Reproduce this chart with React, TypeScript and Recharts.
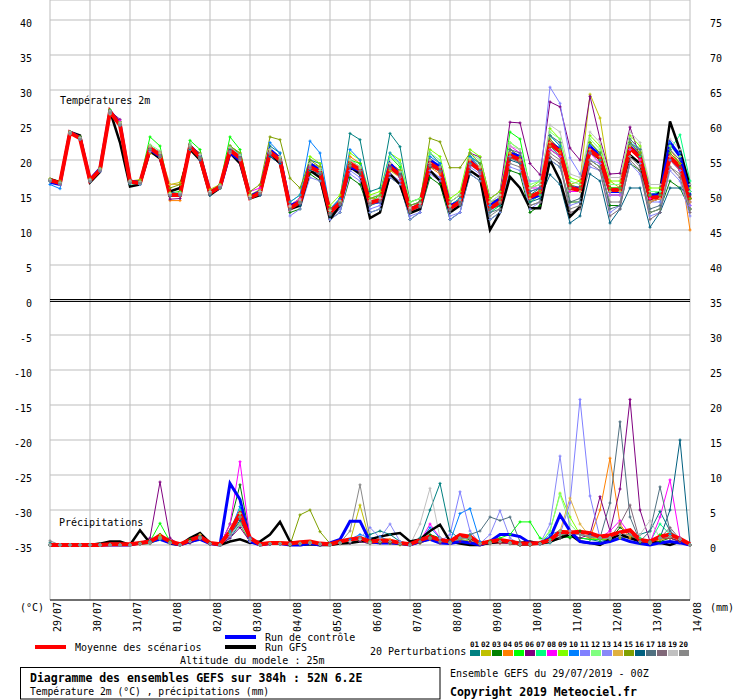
import { CartesianGrid, Line, LineChart, ReferenceLine, XAxis, YAxis } from "recharts";

const MONO = '"DejaVu Sans Mono", monospace';

// x axis: one point every 6h over 384h
const HOURS = Array.from({ length: 65 }, (_, i) => i * 6);
const DAY_TICKS = Array.from({ length: 17 }, (_, i) => i * 24);
const DAYS = [
  "29/07", "30/07", "31/07", "01/08", "02/08", "03/08", "04/08", "05/08", "06/08",
  "07/08", "08/08", "09/08", "10/08", "11/08", "12/08", "13/08", "14/08",
];
const TEMP_TICKS = [-35, -30, -25, -20, -15, -10, -5, 0, 5, 10, 15, 20, 25, 30, 35, 40];
const PREC_TICKS = [0, 5, 10, 15, 20, 25, 30, 35, 40, 45, 50, 55, 60, 65, 70, 75];

const PERT_COLORS = [
  "#008080", "#c0c000", "#008000", "#ff8000", "#00ff00", "#800080", "#00ff80",
  "#ff00ff", "#80ff00", "#0080ff", "#8080ff", "#80ff80", "#8888f8", "#e0b040",
  "#80a000", "#006080", "#507080", "#806878", "#c0c0c0", "#888888",
];

// temperature 2m (°C)
const T_MEAN = [17.1,16.7,23.9,23.1, 17.1,18.6,26.9,25, 16.9,16.7,21.7,20.7, 15,15,21.9,20.4, 15.3,16.2,21.4,20.3, 14.6,15.3,21.1,20, 13.1,14,19,18.3, 12.5,13.9,19.5,18.6, 13.9,14.3,19,17.9, 12.9,13.6,19.5,18.6, 13.1,14,19.7,18.6, 13.1,14,20.7,20, 14.7,15.4,22.4,21.2, 16,15.7,21.4,20.3, 15.7,15.7,21.7,20.4, 14.6,14.7,20.4,19, 14.3];
const T_CTRL = [16.8,16.5,24,23.2, 17.2,18.8,27,25.2, 17,16.8,21.5,20.5, 15.2,15,22,20.6, 15.5,16,21,20, 14.8,15.5,21.5,20.2, 13.5,14,19.5,18.5, 12.5,14,19,18.5, 14,14,19.5,18, 13,13.5,20,19, 13.5,14,20,18.5, 13.5,14.5,21,20.5, 14.5,15,22.5,21.5, 16,16,22,20.5, 15.5,15.5,22,20.5, 15,15,22.5,20.5, 15];
const T_GFS = [17.3,16.8,24,23.5, 16.8,18.3,27,22.5, 16.2,16.5,21.3,20.2, 15.5,16,21.5,20, 15,16,21,19.5, 14.5,15,21,19.5, 13,13.5,18.5,17.5, 11.5,13.5,19,18, 11.7,12.5,18,16.5, 12.4,13,18.5,17, 12.5,13.5,18.5,17.5, 10,12.5,17.6,16, 13.1,13.1,20,17.1, 11.9,13.3,21.7,20, 15.7,15.7,20.7,19.5, 14.3,15.4,25.5,21.4, 16.2];

const t01 = [17,16.6,23.8,23, 17,18.5,26.8,25, 16.8,16.5,22,21, 15,15.2,22.3,20.8, 15.2,16.5,22,20.8, 14.5,15.5,22,21, 13.5,14.5,20,19.5, 13,14.5,23.8,22.9, 15.5,16,23.8,21.9, 14,14.5,21,19.5, 13.5,14.5,20.5,19, 13,14,21,20, 15,16,22,20.5, 16.5,15.5,21,20, 16,16,22.5,21, 15,15.5,20,19, 15.5];
const t02 = [17.3,17,23.7,23.2, 17.3,18.8,26.5,25.5, 17,17.2,21,20.3, 16.5,16.8,21.5,20.2, 15.8,16.5,21,20, 15,15.8,21,19.5, 13.5,14.5,18.5,18, 13,14,19,18, 14.5,14.5,18.5,17.5, 13.5,14,20,19, 13,14,19.5,19, 12.5,13.5,21,20, 15,15.5,21.5,20.5, 16.5,17,29.4,26, 17,16,20.5,19.5, 14,14.5,20,18.5, 13];
const t03 = [17,16.7,23.9,23, 17,18.5,26.8,25, 16.8,16.6,21.5,20.5, 15,15.3,21.5,20.5, 15,16,21.5,20.5, 14.5,15,20.5,19.5, 12.5,13,18,17, 11.5,12.5,17.5,16.5, 12.5,13,17.5,16.5, 11.5,12.5,17.5,16.5, 11.5,12.5,18,17, 11.5,12.5,18.5,18, 12.5,13.5,20,19, 14,14,20,19, 13.5,13.5,19.5,18.5, 12.5,13,17,16, 13];
const t04 = [17.1,16.6,23.8,23.1, 17,18.6,26.8,25.3, 16.8,16.6,22,21, 14.2,14.2,22,20.5, 15.2,16,21.5,20.5, 14.5,15.5,21.5,20.5, 13,14,19.5,19, 12.5,14,20.5,19.5, 14,14.5,19.5,18.5, 12.5,13.5,19,18, 13,14,20,19, 13.5,14.5,21,20, 14,15,22,21, 15.5,15.5,21,20, 15,15,21.5,20, 14,14.5,21.5,19.5, 10];
const t05 = [17.2,16.8,24,23.3, 17.2,18.8,27.2,25.5, 17,17,23.3,22, 15.3,15.5,22.8,21.5, 15.5,16.5,23.3,21.5, 15,15.5,21.5,20.5, 13.5,14,19.5,19, 13,14,20,19.5, 14,15,20.5,19, 13,14,20,19, 13.5,14.5,20.5,19.5, 13.5,14.5,24,23, 16,16.5,23.5,22, 16,15.5,22.5,21, 16,16,22,21, 15,15,21,19.5, 14.5];
const t06 = [17.1,16.7,23.9,23.2, 17.1,18.6,27,25.8, 17,16.8,21.8,21, 14.4,14.5,21.5,20.5, 15.5,16.3,21.5,20.5, 14.5,15,20.5,19.5, 13,14,19,18.5, 12.5,13.5,19.5,18.5, 14,14.5,19,18, 13,14,20,19, 14,15,21,20.4, 14.5,15.5,25.4,25.3, 19.5,17.9,28.3,27.6, 21.7,20,29.1,23, 18,18.1,24.7,20.4, 14,14.5,20,18.5, 14];
const t07 = [17,16.6,23.8,23, 17,18.5,26.7,25, 16.6,16.5,21.5,20.5, 15,15,21.5,20.5, 15.2,16,21.5,20.5, 14.5,15.5,21,20, 13,14,19,18.5, 12.5,14,20,19, 14,14.5,19,18, 13,13.5,19.5,18.5, 13,14,19.5,18.5, 12.5,13.5,20.5,19.5, 14,15,21.5,20.5, 15.5,15.5,21,20, 15.5,15.5,21.5,20.5, 15,15.5,21.5,23.6, 17];
const t08 = [17.1,16.8,23.9,23.2, 17.2,18.7,26.9,25.6, 17,16.8,21.8,21.2, 15,15.2,22,20.7, 15.3,16.3,21.5,20.5, 15.5,16,21,20, 13.5,14.5,19,18.5, 13,14,19.5,18.5, 14,14.5,19,17.5, 13,13.5,19.5,18.5, 13,14,19.5,18.5, 13.5,14.5,22,21, 16,16,21.5,20.5, 15.5,15.5,21,19.5, 15,15,21.5,20, 14.5,14.5,20.5,18.5, 13.5];
const t09 = [17.2,16.8,24,23.1, 17.1,18.6,26.9,25.1, 16.9,16.9,22,21, 15.3,15.3,22,20.5, 15.5,16.5,22,21, 15,15.5,21,20, 14,15,20.5,19.5, 13.5,15,21,20, 15,15.5,21,20, 14,14.5,21.5,20.5, 14.5,15.5,21.5,20.5, 14.5,15.5,22.5,21.5, 16,17,24.5,23, 17.5,17,23.5,22, 17,17,23.5,22, 16,16,22,20.5, 16];
const t10 = [16.5,15.9,23.8,23, 17,18.4,26.8,25.2, 16.8,16.6,21.6,20.8, 15,15.2,22,20.5, 15.5,16.2,21.8,20.8, 14.8,15.5,22.5,21, 14,15,22.7,21, 13,14.5,21.5,20, 14.5,15,21,19.5, 13.5,14,20.5,19.5, 13.5,14.5,20.5,19.5, 13.5,14.5,21.5,20.5, 15.5,16,23.5,22, 16,16,22,21, 15.5,16,22.5,21.5, 15,15,22.5,21, 15.5];
const t11 = [17,16.6,23.7,23, 17,18.5,26.6,25, 16.7,16.6,21.2,20.4, 15,15,21.5,20, 15,16,21,20, 14.5,15,20.5,19.5, 13,13.8,18.5,18, 11.5,13,18.5,17.5, 13,13.5,18,17, 12,12.5,18.5,17.5, 11.5,12.5,19,18, 12.5,14,20.5,20, 17,17,30.4,28.1, 20.3,18,20,19.5, 15,15,20.5,19.5, 14,14,20,18.5, 13.5];
const t12 = [17.2,16.7,23.9,23.2, 17.1,18.7,27,25.2, 16.9,16.8,22.2,21.3, 15.2,15.3,22.3,20.8, 15.4,16.3,21.8,20.7, 14.8,15.3,21.3,20.3, 13.3,14,19.3,18.5, 12.8,14,19.5,18.8, 14.5,15,20.5,19.5, 14,14.5,21,20, 14,15,21,20, 14,15,22.5,21.5, 16.5,17,24,23, 17,16.5,23,21.5, 16.5,16.5,23,21.5, 15.5,15.5,22,20.5, 15.5];
const t13 = [17,16.5,23.8,23, 17,18.4,26.7,25, 16.7,16.5,21.3,20.5, 15,15,21.5,20.3, 15.3,16.2,21.3,20.3, 14.5,15.2,21,19.8, 12,13,17.5,17, 11.5,12.5,18,17, 12.5,13,17.5,16.5, 11.5,12.5,18,17, 12,12.5,18,17, 11.5,12.5,19,18.5, 13,14,20,19, 13.5,14,19,18.5, 12.5,13.5,19.5,18, 12,12.5,18.5,17, 12];
const t14 = [17.1,16.7,23.8,23.1, 17.1,18.6,26.8,25.2, 16.8,16.7,21.8,21, 16.5,16.5,21.5,20.3, 15.3,16,21.5,20.5, 15,15.5,21.5,20.5, 13.3,14.3,19.5,19, 12.8,14,20,19, 14,14.5,19.5,18.5, 13,13.5,19.5,18.5, 13.5,14,20,19, 13,14,21,20, 14.5,15.5,22.5,21.5, 16,15.5,21.5,20.5, 15.5,15.5,22,21, 14,14.5,20.5,19.5, 14];
const t15 = [17.3,16.9,24,23.3, 17.2,18.7,26.9,25.3, 17.1,17,22,21, 16,16.5,22,21, 15.5,16.5,22,21, 15.5,16.5,23.3,22.9, 17.4,16,20,19, 13,14,19.5,18.5, 14.5,15,19.5,18.5, 13.5,14,23.1,22.6, 18.9,18.9,21,19.5, 14,14.5,21.5,20.5, 15,15.5,23,21.5, 16.5,16,22.5,21, 16,16,22.5,21, 15,15,21,19.5, 14.5];
const t16 = [17.2,16.8,24,23.2, 17.2,18.6,27,25, 16.8,16.8,21.5,20.5, 14.8,15,21.5,20, 15,16,21.5,20.5, 14.5,15,20.5,19.5, 13,13.5,18.5,18, 12,13.5,19,18, 13.5,14,19,18, 12.5,13.5,19,18.5, 13,14,19.5,18.5, 13,13.5,20,19.5, 14,14.5,17.9,16.5, 11,12,18,17, 11,13,16,16, 10.4,12.5,16,16, 15];
const t17 = [17,16.6,23.9,23.1, 17,18.5,26.9,25.1, 16.8,16.7,21.6,20.7, 15,15,21.8,20.4, 15.2,16.1,21.3,20.2, 14.6,15.2,20.8,19.8, 13,14,18.8,18.2, 12.3,13.8,19.3,18.5, 13.8,14.2,18.8,17.8, 12.8,13.4,19.3,18.4, 12.5,13.5,18.5,17.5, 12.5,13,21.5,21, 15.5,16,23.5,22.5, 14,14.5,21,20, 13,13.5,23,21.5, 13,13.5,21.5,20, 13];
const t18 = [17.1,16.6,23.9,23, 17.1,18.5,26.9,25, 17,16.8,21.5,20.5, 15.1,15.1,21.7,20.2, 15.4,16.3,21.2,20.3, 14.6,15.3,20.9,19.9, 13,14,18.8,18.2, 12.4,13.8,19.2,18.3, 13.7,14.2,18.8,17.7, 12.7,13.5,19.2,18.3, 13,13.8,19.3,18.3, 13,13.8,20.3,19.6, 13.5,14,20.5,19.5, 12.5,13,19.5,18.5, 12,13,20,18.5, 11.5,12.5,19,17.5, 12.5];
const t19 = [17.2,16.8,24,23.2, 17.2,18.7,27,25.3, 17,16.9,22,21, 15.2,15.3,22,20.8, 15.5,16.4,21.8,20.7, 14.8,15.5,21.5,20.5, 13.4,14.3,19.5,18.8, 12.8,14.2,20,19, 14.2,14.6,19.5,18.3, 13.2,13.8,20,19, 13.4,14.3,20.2,19, 14,15,22,21.5, 16,16.5,25,24, 18,17.5,24,22.5, 17.5,17.5,24,22.5, 16.5,16.5,23,21.5, 16.5];
const t20 = [17,16.6,23.8,23, 17,18.5,26.8,25, 16.8,16.7,21.5,20.6, 14.9,15,21.8,20.3, 15.2,16,21.2,20.2, 14.5,15.2,20.9,19.9, 12.8,13.8,18.8,18.2, 12.2,13.6,19.2,18.5, 13.6,14,18.7,17.6, 12.6,13.3,19.2,18.3, 12.8,13.7,19.4,18.3, 12,13,19.5,19, 13.5,14,21,20, 13,13.5,20,19, 14,14,20.5,19, 12.5,13,19,18, 13];

// precipitation per 6h (mm)
const P_MEAN = [0,0,0,0,0,0,0.1,0.1,0.1, 0.3,0.5,1.3,0.5, 0.1,0.7,1.2,0.3, 0.1,1.9,4.5,1, 0.1,0.3,0.3,0.2, 0.4,0.5,0.2,0.1, 0.5,0.8,1,0.5, 0.6,0.6,0.3,0.1, 0.7,1.2,0.7,0.5, 1.4,1.2,0.2,0.5, 0.7,0.5,0.2,0.2, 0.3,0.7,1.9,1.8, 1.9,1.7,1.2,1.4, 1.8,2.1,0.7,0.5, 1.2,1.5,0.9,0.1];
const P_CTRL = [0,0,0,0,0,0,0,0,0, 0.3,0.5,0.8,0.3, 0,0.5,0.8,0.2, 0,8.8,6.5,0.5, 0,0.2,0.2,0, 0,0.2,0,0.3, 0.8,3.4,3.4,0.5, 0.3,0.3,0.2,0, 0.5,0.8,0.3,0.2, 0.5,0.3,0,0.5, 1.5,1.5,1.2,0.3, 0.2,1,4.3,2, 0.5,0.3,0.2,0.5, 1,0.5,0.2,0, 0.3,0.5,0.3,0];
const P_GFS = [0,0,0,0,0,0.2,0.5,0.5,0, 2.1,0.3,1.5,0.2, 0,1,1.7,0.3, 0,0.5,0.8,0.3, 0.5,1.5,3.3,0.5, 0,0.1,0,0, 0.2,0.3,0.5,0.8, 1.2,1.5,1.7,0.5, 0.8,2,2.9,0.5, 0.2,0,0,0.3, 0.5,0.5,0.3,0.5, 0.2,0.5,1,1.5, 0.5,0.3,0,0.8, 1.5,1,0.5,0.5, 0.3,0,0.5,0];

const p01 = [0.3,0,0,0,0,0,0,0,0, 0.1,0.2,0.8,0.2, 0,0.3,0.8,0.1, 0,1,3,0.5, 0,0.1,0.1,0, 0.1,0.2,0,0, 0.2,0.3,0.5,1.5, 2,1.5,0.5,0.2, 1,5,8.8,2, 0.8,0.5,0.1,0.2, 0.3,0.2,0,0, 0.1,0.3,1,1.2, 1,0.8,0.5,0.8, 1,1.2,1.5,2, 4.8,2,0.5,0];
const p02 = [0,0,0,0,0,0,0,0,0, 0.2,0.2,1.5,0.2, 0,0.5,1.2,0.2, 0,2,3,0.5, 0,0.2,0.3,0, 0.3,0.5,0.2,0, 0.3,0.5,5.7,0.5, 0.3,0.2,0,0, 0.3,0.8,0.3,0.2, 0.8,0.5,0.2,0.2, 0.3,0.2,0,0, 0.2,0.5,2,2, 1.5,1,0.8,0.8, 1,1.2,0.5,0.2, 0.8,1,0.5,0];
const p03 = [0,0,0,0,0,0,0,0,0, 0.2,0.3,1,0.3, 0,0.8,1.5,0.3, 0,3,8.6,1, 0,0.1,0.2,0, 0.2,0.2,0.1,0, 0.2,0.3,0.5,0.2, 0.3,0.3,0.1,0, 0.5,1.5,1,0.5, 1,0.8,0.2,0.2, 0.5,0.2,0,0, 0.3,0.5,1.5,1, 2,1.5,1,0.8, 2.5,1.5,0.3,0.2, 0.5,1,0.5,0];
const p04 = [0,0,0,0,0,0,0,0,0, 0.1,0.5,1.2,0.3, 0,0.5,1,0.2, 0,1.2,4.5,0.8, 0,0.3,0.2,0.1, 0.2,0.3,0.1,0, 0.2,0.5,0.8,0.3, 1,0.8,0.3,0, 0.3,0.8,0.5,0.2, 1,1.2,0.3,0.2, 0.3,0.2,0.1,0, 0.2,0.5,1.5,2, 1.5,1,5,12.4, 3,1,0.5,0.3, 0.8,1,0.5,0];
const p05 = [0,0,0,0,0,0,0,0,0, 0.3,0.5,3.1,0.5, 0,0.5,1,0.2, 0,1.5,3,0.5, 0,0.2,0.2,0, 0.1,0.2,0,0, 0.2,0.5,1,0.2, 0.3,0.3,0.1,0, 0.3,1,0.5,0.3, 1,1,0.3,0.5, 1,1.5,3.3,3.3, 1,0.5,1,1.2, 1,0.8,0.8,1, 1.5,1.5,0.5,0.3, 1.5,1.5,1,0];
const p06 = [0,0,0,0,0,0,0,0,0, 0.2,1,9,1, 0,0.3,0.8,0.1, 0,1,2.5,0.5, 0,0.1,0.2,0, 0.1,0.2,0,0, 0.2,0.3,0.5,0.2, 0.3,0.3,0.1,0, 0.3,0.8,0.3,0.2, 0.5,0.5,0.1,0.2, 0.3,0.2,0,0, 0.2,0.5,1,1.5, 1,1.5,6.9,2, 8,20.8,5,0.5, 1,1,0.5,0];
const p07 = [0,0,0,0,0,0,0,0,0, 0.2,0.3,0.8,0.3, 0,0.5,1,0.2, 0,1.8,5,0.8, 0,0.2,0.2,0.1, 0.2,0.3,0.1,0, 0.3,0.5,0.8,0.5, 0.5,0.5,0.2,0, 0.5,1,0.5,0.3, 1,1.5,0.2,0.3, 0.5,0.3,0.1,0.1, 0.2,0.8,2,1.5, 1.5,1.2,1,1, 1.5,1.5,1,0.5, 3,1.5,0.8,0];
const p08 = [0,0,0,0,0,0,0,0,0, 0.2,0.3,1,0.3, 0,0.5,1,0.2, 0,3,11.9,1, 0,0.2,0.2,0.1, 0.2,0.3,0.1,0, 0.3,0.5,0.8,0.3, 0.5,0.5,0.2,0, 0.5,3,1,0.3, 1,1,0.2,0.3, 0.5,0.3,0.1,0.1, 0.2,0.5,1.5,1.5, 1.5,1.2,1,2, 3.5,1.5,0.5,0.3, 4,9.3,1,0];
const p09 = [0,0,0,0,0,0,0,0,0, 0.2,0.3,1.2,0.3, 0,0.5,1,0.2, 0,1.5,4,0.8, 0,0.2,0.2,0.1, 0.2,0.3,0.1,0, 0.3,0.5,0.8,0.3, 0.5,0.5,0.2,0, 0.5,1,0.5,0.3, 1,1,0.2,0.3, 0.5,0.3,0.1,0.1, 0.2,2,7.4,4, 1.5,1.2,1,1, 1.5,1.5,0.5,0.3, 1,1.2,0.8,0];
const p10 = [0,0,0,0,0,0,0,0,0, 0.2,0.5,1,0.3, 0,0.5,1.2,0.2, 0,2,5.5,1, 0,0.2,0.2,0.1, 0.2,0.3,0.1,0, 0.3,0.8,1.5,1, 1.2,0.5,0.2,0, 0.5,2.5,1,0.5, 4.5,5.2,0.5,0.3, 0.5,0.3,0.1,0.1, 0.2,1.5,2,1.5, 1.5,1.2,1,1, 1.5,1.5,0.5,0.3, 1,1.5,0.8,0];
const p11 = [0,0,0,0,0,0,0,0,0, 0.2,0.3,1,0.3, 0,0.5,1,0.2, 0,1.2,3.5,0.5, 0,0.2,0.2,0.1, 0.2,0.3,0.1,0, 0.3,0.5,0.8,0.3, 0.5,0.5,0.2,0, 0.5,1,0.5,1.5, 7.6,2,0.2,0.3, 0.5,0.3,0.1,0.1, 0.2,0.5,1.5,6, 20.8,7,1,1, 1.5,1.5,0.5,0.3, 1,1.2,0.8,0];
const p12 = [0,0,0,0,0,0,0,0,0, 0.2,0.3,1,0.3, 0,0.5,1,0.2, 0,1.5,4.5,0.8, 0,0.2,0.2,0.1, 0.2,0.3,0.1,0, 0.3,0.5,0.8,0.3, 0.5,0.5,0.2,0, 0.5,1,0.5,0.3, 1,1,0.2,0.3, 0.5,0.3,0.1,0.1, 0.2,2,7.2,3, 1.5,1.2,1,1, 1.5,1.5,0.5,0.3, 1,1.2,0.8,0];
const p13 = [0,0,0,0,0,0,0,0,0, 0.2,0.3,1,0.3, 0,0.5,1,0.2, 0,1.5,4,0.8, 0,0.2,0.2,0.1, 0.2,0.3,0.1,0, 0.3,0.5,1,2.5, 1,3,0.5,0, 0.5,1,0.5,0.3, 1,1,0.2,1.5, 4.9,1,0.1,0.1, 0.2,3,12.7,2, 1.5,1.2,1,1, 1.5,1.5,0.5,0.3, 1,1.2,0.8,0];
const p14 = [0,0,0,0,0,0,0,0,0, 0.2,0.3,1,0.3, 0,0.5,1.5,0.2, 0,1.5,4,0.8, 0,0.2,0.2,0.1, 0.2,0.3,0.1,0, 0.3,0.5,0.8,0.3, 0.5,0.5,0.2,0, 0.5,1,0.5,0.3, 1,1,0.2,0.3, 0.5,0.3,0.1,0.1, 0.2,0.5,2,6.7, 3,1.2,1,1, 1.5,1.5,0.5,0.3, 1,1.2,0.8,0];
const p15 = [0,0,0,0,0,0,0,0,0, 0.2,0.3,1,0.3, 0,0.5,1,0.2, 0,1.5,4,0.8, 0,0.2,0.2,0, 4.3,5,1.9,0.2, 0.3,0.5,0.8,0.3, 0.5,0.5,0.2,0, 0.5,1,0.5,0.3, 1,1,0.2,0.3, 0.5,0.3,0.1,0.1, 0.2,0.5,1.5,1.5, 1.5,1.2,1,1, 1.5,1.5,0.5,0.3, 1,1.2,0.8,0];
const p16 = [0,0,0,0,0,0,0,0,0, 0.2,0.3,1,0.3, 0,0.5,1,0.2, 0,1.5,3.5,0.8, 0,0.2,0.2,0.1, 0.2,0.3,0.1,0, 0.3,0.5,0.8,0.3, 0.5,0.5,0.2,0, 0.5,1,0.5,0.3, 1,1,0.2,0.3, 0.5,0.3,0.1,0.1, 0.2,0.5,1.5,1.5, 1.5,1.2,1,1, 1.5,1.5,0.5,0.3, 1,5,15,0];
const p17 = [0,0,0,0,0,0,0,0,0, 0.2,0.3,1,0.3, 0,0.5,1,0.2, 0,1.5,4,0.8, 0,0.2,0.2,0.1, 0.2,0.3,0.1,0, 0.3,0.5,0.8,0.3, 0.5,0.5,0.2,0, 0.5,1,0.5,0.3, 1,1.5,2,4, 3.5,4,0.5,0.1, 0.2,0.5,1.5,1.5, 1.5,1.2,1,6, 17.6,4,0.5,2, 8.3,2,0.8,0];
const p18 = [0,0,0,0,0,0,0,0,0, 0.2,0.3,1,0.3, 0,0.5,1,0.2, 0,1.5,4,0.8, 0,0.2,0.2,0.1, 0.2,0.3,0.1,0, 0.3,0.5,0.8,0.3, 0.5,0.5,0.2,0, 0.5,1,0.5,0.3, 1,1,0.2,0.3, 0.5,0.3,0.1,0.1, 0.2,0.5,1.5,1.5, 1.5,1.2,1,1, 3,5.7,0.5,0.3, 1,2.5,0.8,0];
const p19 = [0,0,0,0,0,0,0,0,0, 0.2,0.3,1,0.3, 0,0.5,1,0.2, 0,1.5,3,0.8, 0,0.2,0.2,0.1, 0.2,0.3,0.1,0, 0.3,0.5,0.8,0.3, 0.5,0.5,0.2,0, 3,8.1,1,0.3, 1,1,0.2,0.3, 0.5,0.3,0.1,0.1, 0.2,0.5,1.5,1.5, 1.5,1.2,1,1, 1.5,1.5,1.5,3.5, 1,1.2,0.8,0];
const p20 = [0.6,0,0,0,0,0,0,0,0, 0.2,0.3,1,0.3, 0,0.5,1,0.2, 0,1.5,4,0.8, 0,0.2,0.2,0.1, 0.2,0.3,0.1,0, 0.3,2,8.6,1, 0.5,0.5,0.2,0, 0.5,1,0.5,0.3, 1,1,0.2,0.3, 0.5,0.3,0.1,0.1, 0.2,0.5,1.5,1.5, 1.5,1.2,1,1, 1.5,1.5,0.5,0.3, 1,1.2,0.8,0];

const T_PERT = [t01, t02, t03, t04, t05, t06, t07, t08, t09, t10, t11, t12, t13, t14, t15, t16, t17, t18, t19, t20];
const P_PERT = [p01, p02, p03, p04, p05, p06, p07, p08, p09, p10, p11, p12, p13, p14, p15, p16, p17, p18, p19, p20];

const data = HOURS.map((h, i) => {
  const row: Record<string, number> = {
    h,
    tM: T_MEAN[i], tC: T_CTRL[i], tG: T_GFS[i],
    pM: P_MEAN[i], pC: P_CTRL[i], pG: P_GFS[i],
  };
  T_PERT.forEach((s, k) => { row[`t${k}`] = s[i]; });
  P_PERT.forEach((s, k) => { row[`p${k}`] = s[i]; });
  return row;
});

// small "+" marker like the original gif
const Cross = (props: any) => {
  const { cx, cy, stroke, index } = props;
  if (cx == null || cy == null) return <g key={`c-${index}`} />;
  return (
    <path
      key={`c-${index}`}
      d={`M${cx - 1.5},${cy}h3M${cx},${cy - 1.5}v3`}
      stroke={stroke}
      strokeWidth={1}
      fill="none"
    />
  );
};

const DayTick = (props: any) => {
  const { x, payload } = props;
  return (
    <text
      transform={`translate(${x + 11},602) rotate(-90)`}
      textAnchor="end"
      fontSize={10}
      fontFamily={MONO}
      fill="#000"
    >
      {DAYS[payload.value / 24]}
    </text>
  );
};

const LeftTick = (props: any) => (
  <text x={32} y={props.y + 7} textAnchor="end" fontSize={10} fontFamily={MONO} fill="#000">
    {props.payload.value}
  </text>
);

const RightTick = (props: any) => (
  <text x={710} y={props.y + 7} textAnchor="start" fontSize={10} fontFamily={MONO} fill="#000">
    {props.payload.value}
  </text>
);

const txt = { fontFamily: MONO, fill: "#000" };

export default function App() {
  return (
    <div style={{ position: "absolute", left: 0, top: 0, width: 740, height: 700, background: "#fff" }}>
      <LineChart width={740} height={700} data={data} margin={{ top: 0, right: 0, bottom: 60, left: 0 }}>
        <CartesianGrid yAxisId="t" stroke="#bdbdbd" strokeWidth={1} />
        <XAxis
          dataKey="h"
          type="number"
          domain={[0, 384]}
          ticks={DAY_TICKS}
          tick={<DayTick />}
          tickLine={false}
          axisLine={{ stroke: "#000", strokeWidth: 1 }}
          height={40}
          interval={0}
        />
        <YAxis
          yAxisId="t"
          orientation="left"
          width={50}
          domain={[-300 / 7, 300 / 7]}
          ticks={TEMP_TICKS}
          allowDataOverflow
          axisLine={false}
          tickLine={false}
          tick={<LeftTick />}
          interval={0}
        />
        <YAxis
          yAxisId="p"
          orientation="right"
          width={50}
          domain={[-55 / 7, 545 / 7]}
          ticks={PREC_TICKS}
          allowDataOverflow
          axisLine={false}
          tickLine={false}
          tick={<RightTick />}
          interval={0}
        />
        <ReferenceLine yAxisId="t" y={0.07} stroke="#000" strokeWidth={1} />
        <ReferenceLine yAxisId="t" y={-0.21} stroke="#000" strokeWidth={1} />

        {PERT_COLORS.map((c, k) => (
          <Line key={`t${k}`} yAxisId="t" type="linear" dataKey={`t${k}`} stroke={c} strokeWidth={1} dot={<Cross />} isAnimationActive={false} />
        ))}
        {PERT_COLORS.map((c, k) => (
          <Line key={`p${k}`} yAxisId="p" type="linear" dataKey={`p${k}`} stroke={c} strokeWidth={1} dot={<Cross />} isAnimationActive={false} />
        ))}
        <Line yAxisId="t" type="linear" dataKey="tG" stroke="#000" strokeWidth={2.5} dot={false} isAnimationActive={false} />
        <Line yAxisId="p" type="linear" dataKey="pG" stroke="#000" strokeWidth={2.5} dot={false} isAnimationActive={false} />
        <Line yAxisId="t" type="linear" dataKey="tC" stroke="#0000ff" strokeWidth={3} dot={false} isAnimationActive={false} />
        <Line yAxisId="p" type="linear" dataKey="pC" stroke="#0000ff" strokeWidth={3} dot={false} isAnimationActive={false} />
        <Line yAxisId="t" type="linear" dataKey="tM" stroke="#ff0000" strokeWidth={4} dot={false} isAnimationActive={false} />
        <Line yAxisId="p" type="linear" dataKey="pM" stroke="#ff0000" strokeWidth={4} dot={false} isAnimationActive={false} />
      </LineChart>

      <svg width={740} height={700} style={{ position: "absolute", left: 0, top: 0, pointerEvents: "none" }}>
        <text x={60} y={104} fontSize={10} {...txt}>Températures 2m</text>
        <text x={59} y={526} fontSize={10} {...txt}>Précipitations</text>
        <text x={20} y={611} fontSize={10} {...txt}>(°C)</text>
        <text x={710} y={611} fontSize={10} {...txt}>(mm)</text>

        <rect x={35} y={645} width={31} height={4} fill="#ff0000" />
        <text x={75} y={651} fontSize={10} {...txt}>Moyenne des scénarios</text>
        <rect x={225} y={635} width={31} height={4} fill="#0000ff" />
        <text x={265} y={641} fontSize={10} {...txt}>Run de contrôle</text>
        <rect x={225} y={645} width={31} height={4} fill="#000" />
        <text x={265} y={651} fontSize={10} {...txt}>Run GFS</text>
        <text x={180} y={664} fontSize={10} {...txt}>Altitude du modele : 25m</text>

        <text x={370} y={655} fontSize={10} {...txt}>20 Perturbations</text>
        {PERT_COLORS.map((c, k) => (
          <g key={c + k}>
            <text x={470 + k * 11} y={647} fontSize={7.5} fontWeight="bold" {...txt}>
              {String(k + 1).padStart(2, "0")}
            </text>
            <rect x={470 + k * 11} y={650} width={10} height={6} fill={c} />
          </g>
        ))}

        <rect x={20.5} y={667.5} width={419.5} height={31.5} fill="none" stroke="#000" strokeWidth={1} />
        <text x={30} y={681.5} fontSize={11.5} fontWeight="bold" {...txt}>
          Diagramme des ensembles GEFS sur 384h : 52N 6.2E
        </text>
        <text x={30} y={695} fontSize={9.7} {...txt}>Température 2m (°C) , précipitations (mm)</text>

        <text x={450} y={676.5} fontSize={10} {...txt}>Ensemble GEFS du 29/07/2019 - 00Z</text>
        <text x={450} y={696} fontSize={11.5} fontWeight="bold" {...txt}>Copyright 2019 Meteociel.fr</text>
      </svg>
    </div>
  );
}
